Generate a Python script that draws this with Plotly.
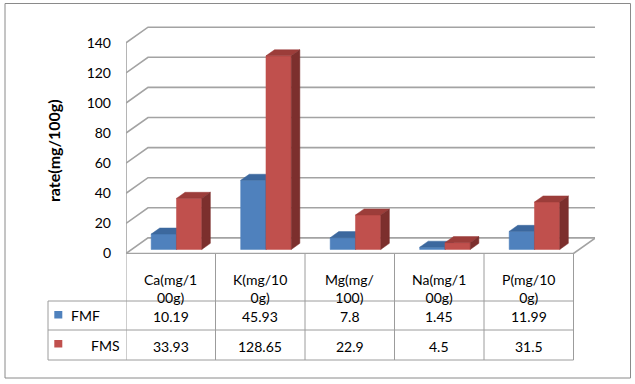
import plotly.graph_objects as go

# ---- data ----
categories = ["Ca(mg/100g)", "K(mg/100g)", "Mg(mg/100)", "Na(mg/100g)", "P(mg/100g)"]
cat_labels = ["Ca(mg/1<br>00g)", "K(mg/10<br>0g)", "Mg(mg/<br>100)", "Na(mg/1<br>00g)", "P(mg/10<br>0g)"]
series_names = ["FMF", "FMS"]
fmf = [10.19, 45.93, 7.8, 1.45, 11.99]
fms = [33.93, 128.65, 22.9, 4.5, 31.5]
fmf_text = ["10.19", "45.93", "7.8", "1.45", "11.99"]
fms_text = ["33.93", "128.65", "22.9", "4.5", "31.5"]
y_ticks = [0, 20, 40, 60, 80, 100, 120, 140]

# ---- layout geometry (pixels) ----
W_PX, H_PX = 635, 384
L, R, T, B = 126, 40, 26, 130
plot_w = W_PX - L - R
plot_h = H_PX - T - B
CAT_PX = 89.5          # pixels per category on front plane
PPU = 1.505            # pixels per value unit
Y0_PX = 253.5          # pixel of value 0 on front plane
y_lo = -((T + plot_h) - Y0_PX) / PPU
y_hi = y_lo + plot_h / PPU
x_lo = -0.5
x_hi = x_lo + plot_w / CAT_PX

DX = 22 / CAT_PX       # full depth offset (x, categories)
DY = 15.6 / PPU        # full depth offset (y, value units)
F1 = 0.26              # bar front depth fraction
FD = 0.39              # bar depth fraction
BW = 25.3 / CAT_PX     # bar width


def px_x(px):
    return (px - L) / plot_w


def px_y(py):
    return (T + plot_h - py) / plot_h


def cat_to_px(c):
    return L + (c - x_lo) * CAT_PX


fig = go.Figure()

# ---- walls / gridlines ----
gx, gy = [], []
for v in y_ticks:
    gx += [-0.5, -0.5 + DX, 4.5 + DX, None]
    gy += [v, v + DY, v + DY, None]
gx += [-0.5, -0.5, None, -0.5, 4.5, 4.5 + DX, None]
gy += [0, 140, None, 0, 0, DY, None]
fig.add_trace(go.Scatter(x=gx, y=gy, mode="lines", line=dict(color="#a3a3a3", width=1.6),
                         hoverinfo="skip", showlegend=False))

# ---- 3D bars ----
colors = [
    dict(front="#4F81BD", top="#3C689E", side="#2E5282"),
    dict(front="#C0504D", top="#9C3D3A", side="#7C2F2D"),
]
ddx, ddy = DX * FD, DY * FD
for s, vals in enumerate([fmf, fms]):
    fx, fy, tx, ty, sx, sy = [], [], [], [], [], []
    for i, v in enumerate(vals):
        c = i + DX * F1
        xl = c - BW + s * BW
        yb = DY * F1
        fx += [xl, xl + BW, xl + BW, xl, xl, None]
        fy += [yb, yb, yb + v, yb + v, yb, None]
        tx += [xl, xl + BW, xl + BW + ddx, xl + ddx, xl, None]
        ty += [yb + v, yb + v, yb + v + ddy, yb + v + ddy, yb + v, None]
        sx += [xl + BW, xl + BW + ddx, xl + BW + ddx, xl + BW, xl + BW, None]
        sy += [yb, yb + ddy, yb + v + ddy, yb + v, yb, None]
    for px_, py_, col in [(fx, fy, colors[s]["front"]), (tx, ty, colors[s]["top"]),
                          (sx, sy, colors[s]["side"])]:
        fig.add_trace(go.Scatter(x=px_, y=py_, mode="lines", fill="toself", fillcolor=col,
                                 line=dict(color=col, width=0.5), hoverinfo="skip",
                                 showlegend=False, name=series_names[s]))

# ---- data table ----
shapes = []
tcol = "#9c9c9c"
left_px = 48
right_cat = 4.5
row_lines = [301, 330, 360]
for py in row_lines:
    shapes.append(dict(type="line", xref="paper", yref="paper",
                       x0=px_x(left_px), x1=px_x(cat_to_px(right_cat)),
                       y0=px_y(py), y1=px_y(py), line=dict(color=tcol, width=1)))
for k in range(len(categories) + 1):
    shapes.append(dict(type="line", xref="x", yref="paper", x0=-0.5 + k, x1=-0.5 + k,
                       y0=px_y(254), y1=px_y(360), line=dict(color=tcol, width=1)))
shapes.append(dict(type="line", xref="paper", yref="paper", x0=px_x(left_px), x1=px_x(left_px),
                   y0=px_y(301), y1=px_y(360), line=dict(color=tcol, width=1)))
# legend keys
for s, (y0, y1) in enumerate([(311, 318.5), (340, 347.5)]):
    shapes.append(dict(type="rect", xref="paper", yref="paper", x0=px_x(54.3), x1=px_x(62.3),
                       y0=px_y(y1), y1=px_y(y0), fillcolor=colors[s]["front"], line=dict(width=0)))
# outer border
shapes.append(dict(type="rect", xref="paper", yref="paper", x0=px_x(5), x1=px_x(630.5),
                   y0=px_y(378), y1=px_y(3.5), line=dict(color="#8a8a8a", width=1)))

FONT = "Lato"
annotations = []
for i, lab in enumerate(cat_labels):
    annotations.append(dict(x=i, y=px_y(288), xref="x", yref="paper", text=lab, showarrow=False,
                            xanchor="center", yanchor="middle", font=dict(family=FONT, size=14, color="black")))
    annotations.append(dict(x=i, y=px_y(316), xref="x", yref="paper", text=fmf_text[i], showarrow=False,
                            xanchor="center", yanchor="middle", font=dict(family=FONT, size=14, color="black")))
    annotations.append(dict(x=i, y=px_y(346), xref="x", yref="paper", text=fms_text[i], showarrow=False,
                            xanchor="center", yanchor="middle", font=dict(family=FONT, size=14, color="black")))
annotations.append(dict(x=px_x(69), y=px_y(315.5), xref="paper", yref="paper", text=series_names[0],
                        showarrow=False, xanchor="left", yanchor="middle",
                        font=dict(family=FONT, size=14, color="black")))
annotations.append(dict(x=px_x(121.5), y=px_y(345.5), xref="paper", yref="paper", text=series_names[1],
                        showarrow=False, xanchor="right", yanchor="middle",
                        font=dict(family=FONT, size=14, color="black")))
annotations.append(dict(x=px_x(53), y=px_y(151), xref="paper", yref="paper", text="<b>rate(mg/100g)</b>",
                        showarrow=False, textangle=-90, xanchor="center", yanchor="middle",
                        font=dict(family=FONT, size=16, color="black")))

fig.update_layout(
    width=W_PX, height=H_PX,
    margin=dict(l=L, r=R, t=T, b=B, pad=0),
    paper_bgcolor="white", plot_bgcolor="white",
    showlegend=False,
    xaxis=dict(range=[x_lo, x_hi], visible=False, fixedrange=True),
    yaxis=dict(range=[y_lo, y_hi], tickvals=y_ticks, ticktext=[str(v) for v in y_ticks],
               showgrid=False, zeroline=False, showline=False, ticks="",
               ticklabelstandoff=14, tickfont=dict(family=FONT, size=14, color="black"),
               fixedrange=True),
    shapes=shapes,
    annotations=annotations,
)

fig.write_html("out.html", config={"displayModeBar": False},
               post_script="document.body.style.margin='0';document.body.style.overflow='hidden';")
